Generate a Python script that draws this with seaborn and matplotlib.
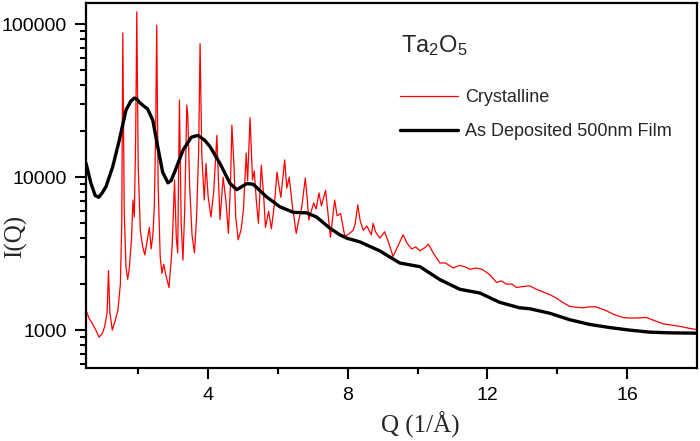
import matplotlib
matplotlib.use("Agg")
import matplotlib.pyplot as plt
import matplotlib.ticker as mtick
import seaborn as sns
import pandas as pd

# Ta2O5 scattering intensity
q_cryst = [0.52, 0.60, 0.70, 0.80, 0.89, 0.98, 1.05, 1.12, 1.16, 1.20,
           1.27, 1.35, 1.43, 1.50, 1.54, 1.57, 1.61, 1.66, 1.71, 1.76,
           1.82, 1.86, 1.90, 1.94, 1.97, 2.01, 2.07, 2.14, 2.20, 2.27,
           2.33, 2.38, 2.43, 2.47, 2.51, 2.54, 2.58, 2.64, 2.69, 2.74,
           2.80, 2.89, 2.95, 2.98, 3.05, 3.10, 3.14, 3.19, 3.24, 3.29,
           3.34, 3.40, 3.43, 3.48, 3.55, 3.62, 3.68, 3.74, 3.78, 3.83,
           3.90, 3.95, 4.01, 4.09, 4.17, 4.26, 4.31, 4.35, 4.44, 4.52,
           4.59, 4.65, 4.69, 4.75, 4.80, 4.87, 4.95, 5.02, 5.10, 5.14,
           5.21, 5.28, 5.33, 5.39, 5.45, 5.53, 5.60, 5.65, 5.74, 5.82,
           5.91, 5.98, 6.03, 6.09, 6.20, 6.26, 6.33, 6.42, 6.53, 6.60,
           6.69, 6.79, 6.85, 6.89, 6.96, 7.03, 7.10, 7.18, 7.25, 7.37,
           7.44, 7.51, 7.63, 7.70, 7.80, 7.92, 8.06, 8.16, 8.22, 8.29,
           8.36, 8.45, 8.55, 8.68, 8.73, 8.80, 8.92, 9.06, 9.18, 9.30,
           9.45, 9.59, 9.70, 9.83, 9.95, 10.07, 10.20, 10.31, 10.45, 10.64,
           10.80, 11.02, 11.20, 11.35, 11.50, 11.68, 11.85, 12.07, 12.26, 12.40,
           12.54, 12.70, 12.83, 12.95, 13.21, 13.40, 13.59, 13.80, 13.97, 14.15,
           14.35, 14.55, 14.73, 14.90, 15.11, 15.25, 15.40, 15.60, 15.87, 16.05,
           16.25, 16.54, 16.80, 17.02, 17.25, 17.49, 17.75, 17.97]
i_cryst = [1350, 1200, 1100, 1000, 900, 950, 1050, 1300, 2450, 1300,
           1000, 1150, 1350, 2000, 5000, 88000, 6000, 2600, 2150, 2600,
           4000, 7100, 5500, 20000, 121000, 12000, 4500, 3500, 3100, 3900,
           4700, 3400, 4200, 6300, 20000, 99000, 9000, 3000, 2350, 2700,
           2300, 1900, 2800, 3500, 9600, 4000, 3200, 32000, 5000, 2870,
           6000, 29700, 25000, 9000, 4200, 3200, 5500, 15000, 75000, 14000,
           7100, 12300, 7500, 5500, 8000, 18800, 9000, 5300, 10000, 7000,
           4300, 9000, 21900, 12000, 5500, 3900, 4500, 6100, 14400, 9500,
           24500, 9600, 11000, 7000, 5000, 12000, 7500, 4700, 6000, 4600,
           6750, 10800, 9000, 7400, 13000, 8500, 10000, 6500, 4300, 5200,
           6400, 9900, 7000, 5250, 6000, 6800, 6200, 7900, 6500, 8200,
           5800, 4050, 7100, 5600, 5800, 4100, 4300, 4500, 5000, 6600,
           5200, 4500, 4800, 4200, 5000, 4400, 4000, 4400, 3700, 3030,
           3600, 4200, 3700, 3400, 3500, 3300, 3450, 3650, 3200, 2750,
           2750, 2550, 2650, 2600, 2500, 2550, 2500, 2300, 2050, 2100,
           2000, 2000, 1900, 1920, 1950, 1850, 1780, 1700, 1620, 1520,
           1430, 1410, 1400, 1420, 1420, 1380, 1340, 1270, 1210, 1200,
           1200, 1210, 1150, 1100, 1080, 1060, 1030, 1010]

q_film = [0.50, 0.52, 0.66, 0.78, 0.88, 0.98, 1.09, 1.28, 1.47, 1.66,
          1.80, 1.90, 1.97, 2.04, 2.15, 2.28, 2.43, 2.57, 2.71, 2.86,
          2.95, 3.05, 3.29, 3.53, 3.72, 3.91, 4.07, 4.35, 4.64, 4.83,
          5.12, 5.30, 5.68, 6.07, 6.45, 6.83, 7.11, 7.49, 7.78, 7.97,
          8.35, 8.92, 9.49, 10.07, 10.64, 11.21, 11.78, 12.35, 12.92, 13.21,
          13.78, 14.35, 14.92, 15.49, 16.07, 16.64, 17.21, 17.97]
i_film = [12500, 12300, 9100, 7600, 7400, 7900, 8700, 11700, 17500, 27500,
          31500, 33000, 32500, 31000, 29500, 28000, 23500, 15800, 10800, 9200,
          9500, 10800, 15000, 18300, 18800, 17500, 15800, 12300, 9100, 8300,
          9100, 9000, 7450, 6400, 5900, 5850, 5500, 4650, 4200, 4000,
          3780, 3300, 2750, 2600, 2140, 1850, 1750, 1520, 1400, 1380,
          1290, 1170, 1090, 1040, 1000, 970, 960, 955]

x_major = [4, 8, 12, 16]
x_minor = [2, 6, 10, 14]
y_major = [1000, 10000, 100000]

sns.set_theme(style="white")
plt.rcParams["font.family"] = ["Liberation Sans", "DejaVu Sans"]
plt.rcParams["mathtext.default"] = "regular"

df_c = pd.DataFrame({"Q": q_cryst, "I": i_cryst})
df_f = pd.DataFrame({"Q": q_film, "I": i_film})

fig = plt.figure(figsize=(7, 4.41), dpi=100)
ax = fig.add_axes([0.123, 0.1655, 0.873, 0.8275])

sns.lineplot(data=df_c, x="Q", y="I", ax=ax, color="red", linewidth=0.9,
             sort=False, estimator=None, label="Crystalline")
sns.lineplot(data=df_f, x="Q", y="I", ax=ax, color="black", linewidth=2.4,
             sort=False, estimator=None, label="As Deposited 500nm Film")

ax.set_yscale("log")
ax.set_xlim(0.52, 18)
ax.set_ylim(565, 138000)

ax.set_xticks(x_major)
ax.set_xticks(x_minor, minor=True)
ax.set_yticks(y_major)
ax.yaxis.set_minor_locator(mtick.LogLocator(base=10, subs=range(2, 10), numticks=20))
ax.yaxis.set_major_formatter(mtick.FuncFormatter(lambda v, _: f"{int(v)}"))
ax.yaxis.set_minor_formatter(mtick.NullFormatter())

ax.tick_params(which="both", direction="out", width=1.5, colors="black",
               labelsize=14, bottom=True, left=True, top=False, right=False)
ax.tick_params(which="major", length=8, pad=6)
ax.tick_params(which="minor", length=4.5)
for sp in ax.spines.values():
    sp.set_linewidth(1.6)
    sp.set_color("black")

ax.set_xlabel("Q (1/Å)", family=["Liberation Serif", "DejaVu Serif"], fontsize=18)
ax.set_ylabel("I(Q)", family=["Liberation Serif", "DejaVu Serif"], fontsize=18)
ax.xaxis.set_label_coords(0.547, -0.12)
ax.yaxis.set_label_coords(-0.097, 0.36)

ax.text(0.516, 0.885, "Ta$_2$O$_5$", transform=ax.transAxes, fontsize=17,
        va="center", ha="left")
ax.legend(loc="upper left", bbox_to_anchor=(0.514, 0.765), frameon=False,
          fontsize=13, handlelength=3.2, handletextpad=0.4, labelspacing=0.95,
          borderpad=0, borderaxespad=0)

fig.savefig("out.png", dpi=100)
